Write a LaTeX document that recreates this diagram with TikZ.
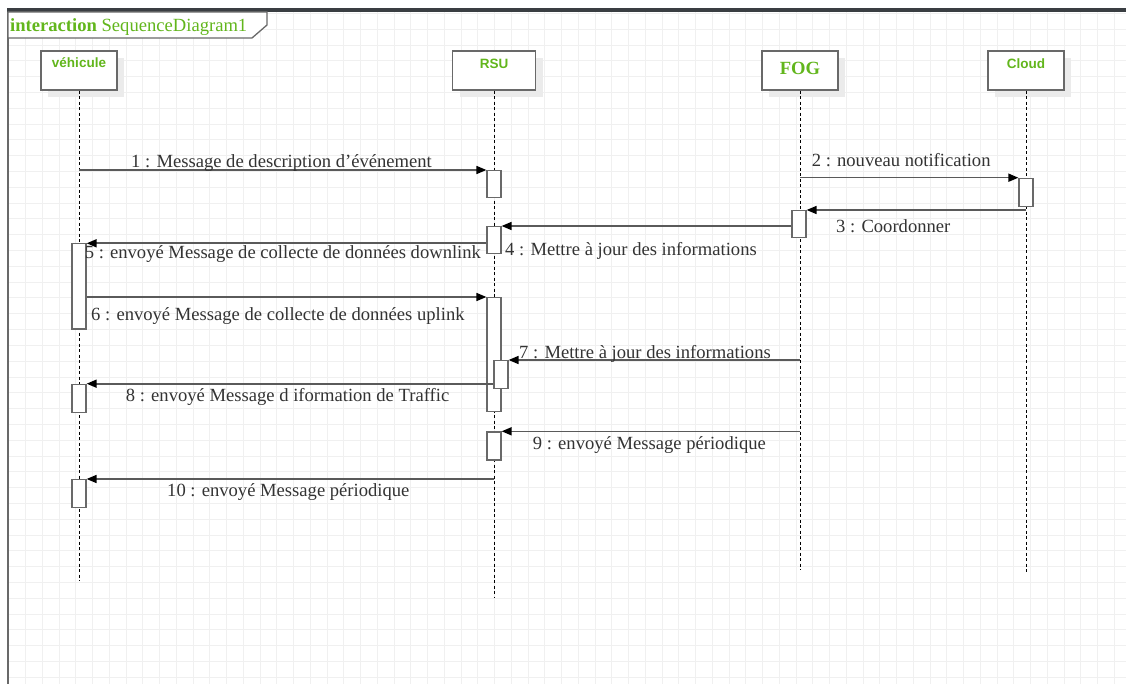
\documentclass[tikz,border=0pt]{standalone}
\usepackage{fontspec}
\setmainfont{Liberation Serif}
\newfontfamily\headfont{Liberation Sans}
\usetikzlibrary{arrows.meta,positioning,shadows}
\definecolor{umlgreen}{RGB}{98,182,28}
\definecolor{msgtext}{RGB}{51,51,51}
\definecolor{linegray}{RGB}{90,90,90}
\definecolor{boxgray}{RGB}{105,105,105}
\definecolor{bargray}{RGB}{58,62,66}

\begin{document}
\begin{tikzpicture}[x=1pt, y=-1pt,
    gridline/.style={draw=black!6, line width=0.8pt},
    lifehead/.style={rectangle, draw=boxgray, fill=white, line width=1.3pt,
      minimum width=76pt, minimum height=39pt, inner sep=0pt,
      drop shadow={shadow xshift=7pt, shadow yshift=-7pt, fill=black!8, opacity=1}},
    headname/.style={text=umlgreen, font=\headfont\bfseries\fontsize{13.5}{16}\selectfont, inner sep=0pt},
    lifeline/.style={draw=black, line width=0.9pt, dash pattern=on 3pt off 2.5pt},
    act/.style={rectangle, draw=boxgray, fill=white, line width=1.2pt,
      minimum width=14pt, inner sep=0pt, anchor=north},
    msg/.style={draw=linegray, line width=1.6pt,
      -{Triangle[length=10pt, width=8pt, color=black]}},
    lbl/.style={text=msgtext, font=\fontsize{18.6}{22}\selectfont, inner sep=0pt, anchor=base west}]

  \useasboundingbox (0,0) rectangle (1126,684);

  % background grid and frame
  \foreach \i in {0,...,66}
    \draw[gridline] ({8.8+16.75*\i},12) -- ({8.8+16.75*\i},684);
  \foreach \j in {0,...,42}
    \draw[gridline] (8,{13.5+15.8*\j}) -- (1126,{13.5+15.8*\j});
  \fill[bargray] (7,8) rectangle (1126,12);
  \draw[boxgray, line width=2pt] (8,12) -- (8,684);
  \draw[boxgray, line width=1.3pt, fill=white] (8,12) -- (267,12) -- (267,25) -- (252,38) -- (8,38) -- cycle;
  \node[anchor=base west, inner sep=0pt, text=umlgreen, font=\fontsize{18.6}{22}\selectfont] (title) at (10,31.5)
    {\textbf{interaction} SequenceDiagram1};

  % lifelines
  \node[lifehead] (veh) at (79,70.5) {};
  \node[lifehead, minimum width=83pt] (rsu) at (494,70.5) {};
  \node[lifehead] (fog) at (800,70.5) {};
  \node[lifehead] (cloud) at (1026,70.5) {};

  \node[headname] (vehname) at (79,63) {véhicule};
  \node[headname] (rsuname) at (494,63.5) {RSU};
  \node[headname, font=\bfseries\fontsize{18.6}{22}\selectfont] (fogname) at (800,68) {FOG};
  \node[headname] (cloudname) at (1026,63.5) {Cloud};

  \coordinate (vehend) at (79,581);
  \coordinate (rsuend) at (494,597);
  \coordinate (fogend) at (800,570);
  \coordinate (cloudend) at (1026,574);
  \draw[lifeline] (veh.south) -- (vehend);
  \draw[lifeline] (rsu.south) -- (rsuend);
  \draw[lifeline] (fog.south) -- (fogend);
  \draw[lifeline] (cloud.south) -- (cloudend);

  % activations
  \node[act, minimum height=27pt] (a1) at (494,170) {};
  \node[act, minimum height=28pt] (a2) at (1026,177.7) {};
  \node[act, minimum height=27pt] (a3) at (799,210) {};
  \node[act, minimum height=27pt] (a4) at (494,226) {};
  \node[act, minimum height=85pt] (a5) at (79,243.3) {};
  \node[act, minimum height=113.5pt] (a6) at (494,297) {};
  \node[act, minimum height=28pt] (a7) at (501,360) {};
  \node[act, minimum height=28pt] (a8) at (79,383.7) {};
  \node[act, minimum height=28pt] (a9) at (494,431.3) {};
  \node[act, minimum height=28pt] (a10) at (79,479) {};

  % messages
  \draw[msg] (veh.south |- a1.north west) -- (a1.north west);
  \draw[msg] (fog.south |- a2.north west) -- (a2.north west);
  \draw[msg] (cloud.south |- a3.north east) -- (a3.north east);
  \draw[msg] (a3.west |- a4.north east) -- (a4.north east);
  \draw[msg] (a4.west |- a5.north east) -- (a5.north east);
  \draw[msg] (a5.east |- a6.north west) -- (a6.north west);
  \draw[msg] (fog.south |- a7.north east) -- (a7.north east);
  \draw[msg] (a7.west |- a8.north east) -- (a8.north east);
  \draw[msg] (fog.south |- a9.north east) -- (a9.north east);
  \draw[msg] (rsu.south |- a10.north east) -- (a10.north east);

  \node[lbl] (l1) at (131,167.5) {1 : Message de description d’événement};
  \node[lbl] (l2) at (811.6,166.5) {2 : nouveau notification};
  \node[lbl] (l3) at (836,233) {3 : Coordonner};
  \node[lbl] (l4) at (505,256) {4 : Mettre à jour des informations};
  \node[lbl] (l5) at (84.6,259) {5 : envoyé Message de collecte de données downlink};
  \node[lbl] (l6) at (91,320.5) {6 : envoyé Message de collecte de données uplink};
  \node[lbl] (l7) at (519,358.5) {7 : Mettre à jour des informations};
  \node[lbl] (l8) at (125.7,401.5) {8 : envoyé Message d iformation de Traffic};
  \node[lbl] (l9) at (532.7,449) {9 : envoyé Message périodique};
  \node[lbl] (l10) at (167,496.5) {10 : envoyé Message périodique};
\end{tikzpicture}
\end{document}
